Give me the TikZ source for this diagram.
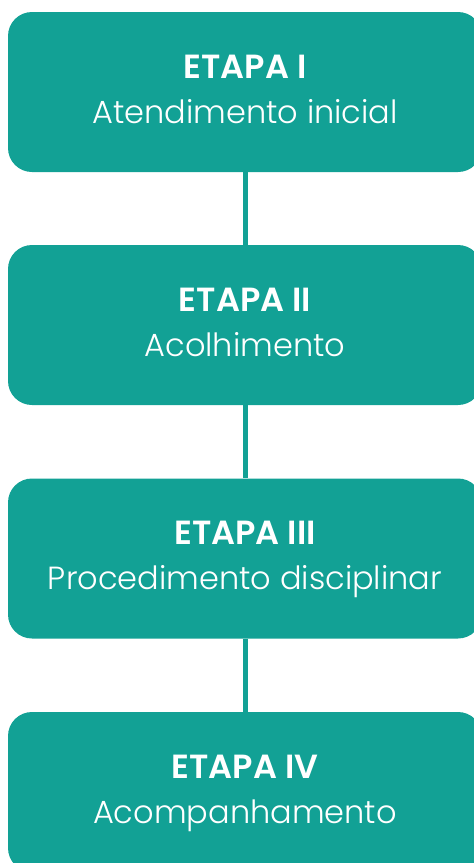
\documentclass[tikz,border=0pt]{standalone}
\usepackage{fontspec}
\setmainfont{Poppins}[UprightFont=* Light, BoldFont=* SemiBold]
\definecolor{teal1}{HTML}{12A195}
\begin{document}
\begin{tikzpicture}[x=1pt,y=1pt,
  stagebox/.style={fill=teal1, rounded corners=24pt, minimum width=474pt, minimum height=160pt, inner sep=0pt, draw=none},
  title/.style={anchor=base, text=white, font=\fontsize{33.5}{36}\selectfont\bfseries},
  sub/.style={anchor=base, text=white, font=\fontsize{32}{36}\selectfont},
  link/.style={draw=teal1, line width=5pt}]
\useasboundingbox (0,0) rectangle (474,-863);
\clip (0,0) rectangle (474,-863);
\node[stagebox] (b1) at (245,-92) {};
\node[stagebox] (b2) at (245,-325) {};
\node[stagebox] (b3) at (245,-558.5) {};
\node[stagebox] (b4) at (245,-792) {};
\draw[link] (b1.south) -- (b2.north);
\draw[link] (b2.south) -- (b3.north);
\draw[link] (b3.south) -- (b4.north);
\node[title] (t1) at ([yshift=14pt]b1.center) {ETAPA I};
\node[sub] (s1) at ([yshift=-31pt]b1.center) {Atendimento inicial};
\node[title] (t2) at ([yshift=14pt]b2.center) {ETAPA II};
\node[sub] (s2) at ([yshift=-31pt]b2.center) {Acolhimento};
\node[title] (t3) at ([yshift=14pt]b3.center) {ETAPA III};
\node[sub] (s3) at ([yshift=-31pt]b3.center) {Procedimento disciplinar};
\node[title] (t4) at ([yshift=14pt]b4.center) {ETAPA IV};
\node[sub] (s4) at ([yshift=-31pt]b4.center) {Acompanhamento};
\end{tikzpicture}
\end{document}
